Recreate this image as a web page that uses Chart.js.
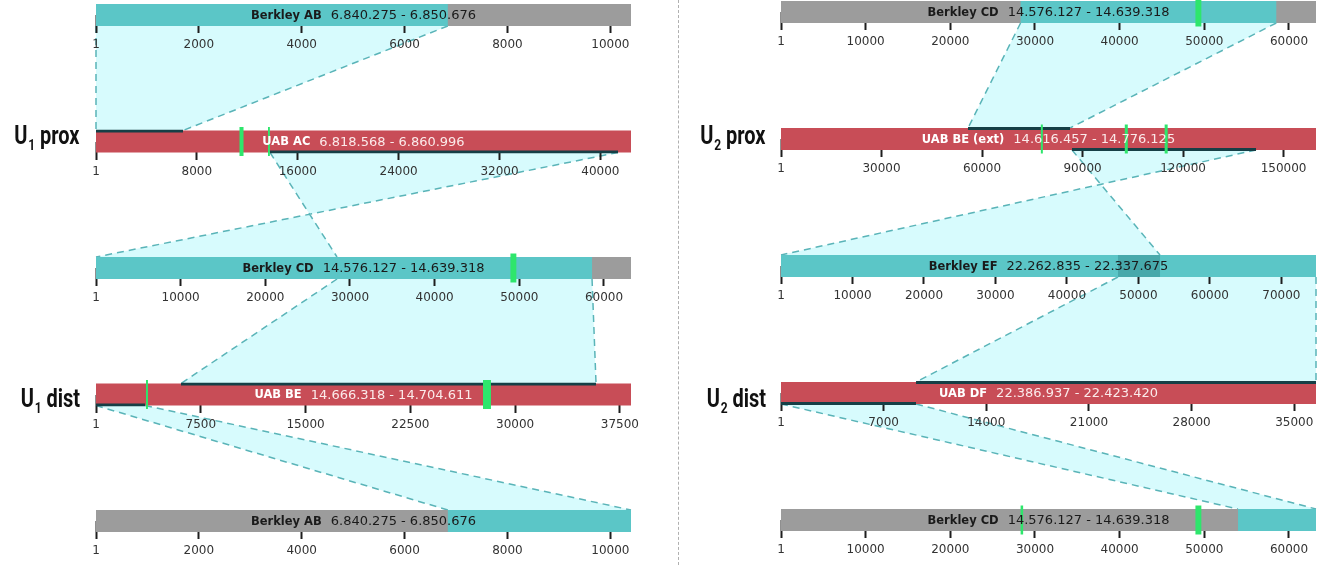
<!DOCTYPE html>
<html>
<head>
<meta charset="utf-8">
<script src="https://cdn.jsdelivr.net/npm/chart.js@4.4.0/dist/chart.umd.min.js"></script>
<style>
  html, body { margin: 0; padding: 0; background: #fff; }
  #wrap { position: relative; width: 1327px; height: 565px; overflow: hidden; }
  .panel { position: absolute; top: 0; height: 565px; }
  #left { left: 0; width: 678px; }
  #right { left: 678px; width: 649px; }
  .divider { position: absolute; left: 678px; top: 0; height: 565px; border-left: 1.5px dashed #b0b0b0; }
  .tag { position: absolute; font-family: Roboto, "Liberation Sans", sans-serif; font-weight: 700; font-size: 25px;
         line-height: 25px; color: #111; transform: scaleX(0.8); transform-origin: right center; white-space: nowrap; }
  .tag sub { font-size: 15px; vertical-align: -6px; margin: 0 6px 0 1px; }
</style>
</head>
<body>
<div id="wrap">
  <div class="panel" id="left"><canvas id="chartLeft" width="678" height="565"></canvas></div>
  <div class="panel" id="right"><canvas id="chartRight" width="649" height="565"></canvas></div>
  <div class="divider"></div>
  <div class="tag" style="right:1247px; top:123px">U<sub>1</sub>prox</div>
  <div class="tag" style="right:1247px; top:386px">U<sub>1</sub>dist</div>
  <div class="tag" style="right:561px; top:123px">U<sub>2</sub>prox</div>
  <div class="tag" style="right:561px; top:386px">U<sub>2</sub>dist</div>
</div>
<script>
// ---- U1 (left)
const leftNames = ['Berkley AB', 'UAB AC', 'Berkley CD', 'UAB BE', 'Berkley AB'];
const leftCoords = ['6.840.275 - 6.850.676', '6.818.568 - 6.860.996', '14.576.127 - 14.639.318', '14.666.318 - 14.704.611', '6.840.275 - 6.850.676'];
const leftLengths = [10401, 42428, 63191, 38293, 10401];
const leftTicks = [
	[1, 2000, 4000, 6000, 8000, 10000],
	[1, 8000, 16000, 24000, 32000, 40000],
	[1, 10000, 20000, 30000, 40000, 50000, 60000],
	[1, 7500, 15000, 22500, 30000, 37500],
	[1, 2000, 4000, 6000, 8000, 10000],
];
// [track, start, end, start on next track, end on next track]
const leftLinks = [
	[0, 1, 6840, 1, 6900],
	[1, 13800, 41400, 28470, 1],
	[2, 28470, 58590, 6080, 35790],
	[3, 1, 3510, 6840, 10401],
];
// [track, start, end]
const leftMarkers = [
	[1, 11380, 11700],
	[1, 13640, 13790],
	[2, 48950, 49650],
	[3, 3580, 3720],
	[3, 27700, 28270],
];

// ---- U2 (right)
const rightNames = ['Berkley CD', 'UAB BE (ext)', 'Berkley EF', 'UAB DF', 'Berkley CD'];
const rightCoords = ['14.576.127 - 14.639.318', '14.616.457 - 14.776.125', '22.262.835 - 22.337.675', '22.386.937 - 22.423.420', '14.576.127 - 14.639.318'];
const rightLengths = [63191, 159668, 74840, 36483, 63191];
const rightTicks = [
	[1, 10000, 20000, 30000, 40000, 50000, 60000],
	[1, 30000, 60000, 90000, 120000, 150000],
	[1, 10000, 20000, 30000, 40000, 50000, 60000, 70000],
	[1, 7000, 14000, 21000, 28000, 35000],
	[1, 10000, 20000, 30000, 40000, 50000, 60000],
];
const rightLinks = [
	[0, 28300, 58500, 55810, 86250],
	[1, 86850, 141760, 53020, 1],
	[2, 47140, 74840, 9210, 36483],
	[3, 1, 9210, 53980, 63191],
];
const rightMarkers = [
	[0, 48950, 49650],
	[1, 77550, 78150],
	[1, 102600, 103500],
	[1, 114500, 115400],
	[4, 28300, 28600],
	[4, 48950, 49650],
];

const CYAN = '#5bc6c7';
const CYAN_DARK = '#47a9ab';
const GRAY = '#9c9c9c';
const RED = '#c84d57';
const GREEN = '#2ee66c';
const EDGE = '#163f46';
const HALF = 11;

Chart.defaults.font.family = '"DejaVu Sans", Verdana, sans-serif';

const span = r => [Math.min(r[0], r[1]), Math.max(r[0], r[1])];

// drawn first so tick marks and bars sit on top of the shaded links
function linkPlugin(links) {
	return {
		id: 'links',
		beforeDraw(chart) {
			const ctx = chart.ctx;
			const ys = chart.scales.y;
			links.forEach(([t, a1, a2, b1, b2]) => {
				const xa = chart.scales['x' + t];
				const xb = chart.scales['x' + (t + 1)];
				const yA = ys.getPixelForValue(t) + HALF;
				const yB = ys.getPixelForValue(t + 1) - HALF;
				const p = [
					[xa.getPixelForValue(a1), yA],
					[xa.getPixelForValue(a2), yA],
					[xb.getPixelForValue(b2), yB],
					[xb.getPixelForValue(b1), yB],
				];
				ctx.save();
				ctx.beginPath();
				ctx.moveTo(p[0][0], p[0][1]);
				p.slice(1).forEach(q => ctx.lineTo(q[0], q[1]));
				ctx.closePath();
				ctx.fillStyle = '#d7fbfd';
				ctx.fill();
				ctx.setLineDash([7, 5]);
				ctx.lineWidth = 1.5;
				ctx.strokeStyle = '#5ab4b8';
				ctx.beginPath();
				ctx.moveTo(p[0][0], p[0][1]);
				ctx.lineTo(p[3][0], p[3][1]);
				ctx.moveTo(p[1][0], p[1][1]);
				ctx.lineTo(p[2][0], p[2][1]);
				ctx.stroke();
				ctx.restore();
			});
		},
	};
}

function labelPlugin(names, coords) {
	return {
		id: 'trackLabels',
		afterDatasetsDraw(chart) {
			const ctx = chart.ctx;
			const ys = chart.scales.y;
			names.forEach((name, t) => {
				const xs = chart.scales['x' + t];
				const uab = name.startsWith('UAB');
				const cx = (xs.left + xs.right) / 2;
				const cy = ys.getPixelForValue(t) + 1;
				ctx.save();
				ctx.textBaseline = 'middle';
				ctx.textAlign = 'left';
				ctx.font = 'bold 11.5px "DejaVu Sans"';
				const w1 = ctx.measureText(name).width;
				ctx.font = '13px "DejaVu Sans"';
				const w2 = ctx.measureText(coords[t]).width;
				const gap = 9;
				const x = cx - (w1 + gap + w2) / 2;
				ctx.font = 'bold 11.5px "DejaVu Sans"';
				ctx.fillStyle = uab ? '#ffffff' : '#1a1a1a';
				ctx.fillText(name, x, cy);
				ctx.font = '13px "DejaVu Sans"';
				ctx.fillStyle = uab ? '#fbeaea' : '#1a1a1a';
				ctx.fillText(coords[t], x + w1 + gap, cy);
				ctx.restore();
			});
		},
	};
}

function buildPanel(canvasId, names, coords, lengths, ticks, links, markers, pad) {
	const datasets = [];
	const scales = {
		y: { type: 'linear', min: 0, max: 4, reverse: true, display: false, offset: false },
	};

	names.forEach((name, t) => {
		const uab = name.startsWith('UAB');
		const xAxisID = 'x' + t;

		scales[xAxisID] = {
			type: 'linear',
			axis: 'x',
			position: { y: t },
			min: 1,
			max: lengths[t],
			border: { display: false },
			grid: { drawOnChartArea: false, tickLength: 18, tickWidth: 2, tickColor: '#1e1e1e' },
			ticks: {
				z: 1,
				padding: 5,
				color: '#333',
				font: { size: 12 },
				maxRotation: 0,
				autoSkip: false,
				callback: v => String(v),
			},
			afterBuildTicks: scale => {
				scale.ticks = ticks[t].map(v => ({ value: v }));
			},
		};

		const bar = (ranges, color, thick, order, extra) =>
			Object.assign(
				{
					type: 'bar',
					xAxisID: xAxisID,
					yAxisID: 'y',
					data: ranges.map(r => ({ x: r, y: t })),
					backgroundColor: color,
					barThickness: thick,
					order: order,
					clip: false,
					grouped: false,
					borderSkipped: false,
					inflateAmount: 0,
				},
				extra
			);

		const above = links.filter(l => l[0] === t - 1).map(l => span([l[3], l[4]]));
		const below = links.filter(l => l[0] === t).map(l => span([l[1], l[2]]));

		datasets.push(bar([[1, lengths[t]]], uab ? RED : GRAY, 22, 6));

		if (!uab) {
			const hits = above.concat(below);
			datasets.push(bar(hits, CYAN, 22, 5));
			const overlaps = [];
			for (let i = 0; i < hits.length; i++) {
				for (let j = i + 1; j < hits.length; j++) {
					const lo = Math.max(hits[i][0], hits[j][0]);
					const hi = Math.min(hits[i][1], hits[j][1]);
					if (hi > lo) overlaps.push([lo, hi]);
				}
			}
			datasets.push(bar(overlaps, CYAN_DARK, 22, 4));
		} else {
			datasets.push(bar(above, 'rgba(0,0,0,0)', 24, 3, {
				borderColor: EDGE,
				borderWidth: { top: 3, bottom: 0, left: 0, right: 0 },
			}));
			datasets.push(bar(below, 'rgba(0,0,0,0)', 24, 3, {
				borderColor: EDGE,
				borderWidth: { top: 0, bottom: 3, left: 0, right: 0 },
			}));
		}

		datasets.push(bar(markers.filter(m => m[0] === t).map(m => [m[1], m[2]]), GREEN, 29, 1));
	});

	return new Chart(document.getElementById(canvasId), {
		type: 'bar',
		data: { datasets: datasets },
		plugins: [linkPlugin(links), labelPlugin(names, coords)],
		options: {
			indexAxis: 'y',
			responsive: false,
			animation: false,
			events: [],
			layout: { padding: pad },
			plugins: {
				legend: { display: false },
				tooltip: { enabled: false },
				title: { display: false },
			},
			scales: scales,
		},
	});
}

const chartLeft = buildPanel('chartLeft', leftNames, leftCoords, leftLengths, leftTicks, leftLinks, leftMarkers,
	{ left: 96, right: 47, top: 15, bottom: 44 });
const chartRight = buildPanel('chartRight', rightNames, rightCoords, rightLengths, rightTicks, rightLinks, rightMarkers,
	{ left: 103, right: 11, top: 12, bottom: 45 });
</script>
</body>
</html>
